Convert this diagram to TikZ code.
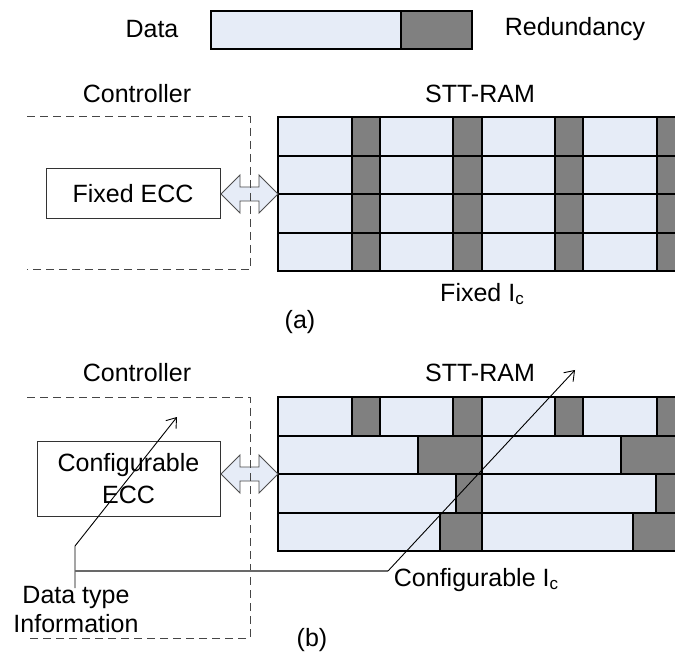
\documentclass[tikz,border=0pt]{standalone}
\usepackage{fontspec}
\setmainfont{Liberation Sans}
\usetikzlibrary{arrows.meta}
\definecolor{lightcell}{RGB}{230,236,247}
\definecolor{darkcell}{RGB}{128,128,128}
\definecolor{dashgray}{RGB}{70,70,70}
\definecolor{linegray}{RGB}{105,105,105}
\newcommand{\subc}{\raisebox{-3.5pt}{\fontsize{17}{17}\selectfont c}}
\tikzset{
  txt/.style={inner sep=0pt, font=\fontsize{25}{29}\selectfont, align=center},
  datacell/.style={fill=lightcell, draw=black, line width=1.1pt},
  redcell/.style={fill=darkcell, draw=black, line width=1.1pt},
  ctrlbox/.style={draw=dashgray, dash pattern=on 8pt off 5pt, line width=1pt},
  eccbox/.style={draw=black!80, line width=1pt, fill=white, inner sep=0pt, font=\fontsize{25}{32}\selectfont, align=center},
  dblarrow/.style={fill=lightcell, draw=black!70, line width=0.9pt},
  thinarrow/.style={draw=black, line width=0.9pt, -{Straight Barb[length=9pt,width=13pt]}},
}
\begin{document}
\begin{tikzpicture}[x=1pt,y=-1pt]
\clip (0,0) rectangle (675,652);
\fill[white] (0,0) rectangle (675,652);

% legend
\node[txt] (data) at (152,29) {Data};
\draw[datacell] (211,11) rectangle (401,49);
\draw[redcell] (401,11) rectangle (472,49);
\node[txt] (red) at (575,29) {Redundancy};

% ---------- (a) ----------
\node[txt] (ctrlA) at (137,94) {Controller};
\node[txt] (sttA) at (480,94) {STT-RAM};
\foreach \ya/\yb in {117/156,156/194,194/233,233/271}{
  \draw[datacell] (278,\ya) rectangle (352,\yb);
  \draw[redcell]  (352,\ya) rectangle (380,\yb);
  \draw[datacell] (380,\ya) rectangle (453,\yb);
  \draw[redcell]  (453,\ya) rectangle (482,\yb);
  \draw[datacell] (482,\ya) rectangle (555,\yb);
  \draw[redcell]  (555,\ya) rectangle (583,\yb);
  \draw[datacell] (583,\ya) rectangle (657,\yb);
  \draw[redcell]  (657,\ya) rectangle (690,\yb);
}
\node[eccbox, minimum width=174pt, minimum height=50pt] (eccA) at (133,194) {Fixed ECC};
\draw[dblarrow] (221,194) -- (240,175) -- (240,187) -- (259,187) -- (259,175) -- (278,194)
  -- (259,213) -- (259,201) -- (240,201) -- (240,213) -- cycle;
\draw[ctrlbox] (27,117) -- (250,117) -- (250,270) -- (27,270);
\node[txt] (icA) at (482,294) {Fixed I\subc};
\node[txt] (labA) at (300,322) {(a)};

% ---------- (b) ----------
\node[txt] (ctrlB) at (137,373) {Controller};
\node[txt] (sttB) at (480,373) {STT-RAM};
% row 1
\draw[datacell] (278,397) rectangle (352,436);
\draw[redcell]  (352,397) rectangle (380,436);
\draw[datacell] (380,397) rectangle (453,436);
\draw[redcell]  (453,397) rectangle (482,436);
\draw[datacell] (482,397) rectangle (555,436);
\draw[redcell]  (555,397) rectangle (583,436);
\draw[datacell] (583,397) rectangle (657,436);
\draw[redcell]  (657,397) rectangle (690,436);
% row 2
\draw[datacell] (278,436) rectangle (418,474);
\draw[redcell]  (418,436) rectangle (482,474);
\draw[datacell] (482,436) rectangle (621,474);
\draw[redcell]  (621,436) rectangle (690,474);
% row 3
\draw[datacell] (278,474) rectangle (456,513);
\draw[redcell]  (456,474) rectangle (482,513);
\draw[datacell] (482,474) rectangle (656,513);
\draw[redcell]  (656,474) rectangle (690,513);
% row 4
\draw[datacell] (278,513) rectangle (440,551);
\draw[redcell]  (440,513) rectangle (482,551);
\draw[datacell] (482,513) rectangle (633,551);
\draw[redcell]  (633,513) rectangle (690,551);

\node[eccbox, minimum width=183pt, minimum height=75pt] (eccB) at (128.5,478.5) {Configurable\\ECC};
\draw[dblarrow] (221,474) -- (240,455) -- (240,467) -- (259,467) -- (259,455) -- (278,474)
  -- (259,493) -- (259,481) -- (240,481) -- (240,493) -- cycle;
\draw[ctrlbox] (27,397) -- (250,397) -- (250,638) -- (27,638);

\node[txt] (dtinfo) at (76,610) {Data type\\Information};
\node[txt] (icB) at (476,580) {Configurable I\subc};
\node[txt] (labB) at (312,640) {(b)};

\coordinate (dtfoot) at (75,588);
\coordinate (dtbend) at (75,546);
\coordinate (dttip) at (177,417);
\coordinate (hstart) at (75,571);
\coordinate (icbend) at (388,571);
\coordinate (ictip) at (575,370);
\draw[thinarrow] (dtfoot) -- (dtbend) -- (dttip);
\draw[linegray, line width=1.2pt] (hstart) -- (icbend);
\draw[thinarrow] (icbend) -- (ictip);
\end{tikzpicture}
\end{document}
